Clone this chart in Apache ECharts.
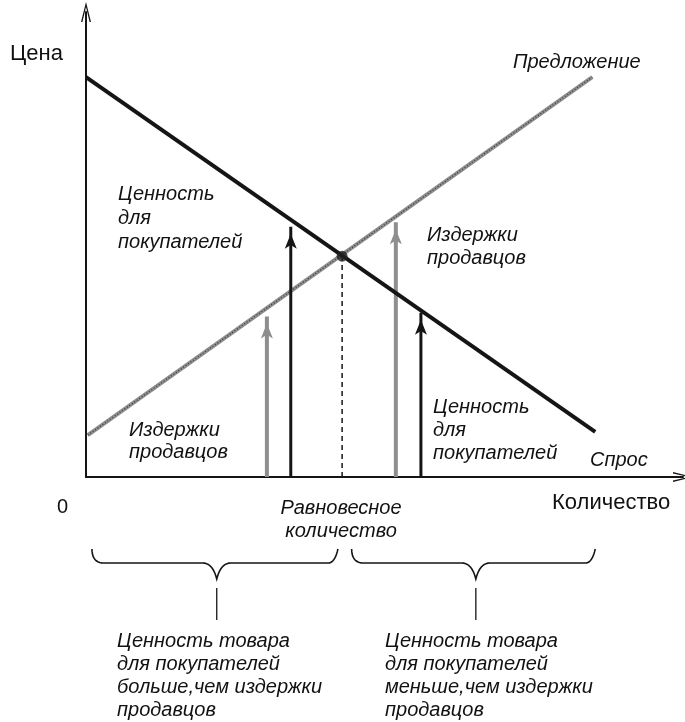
<!DOCTYPE html>
<html>
<head>
<meta charset="utf-8">
<script src="https://cdn.jsdelivr.net/npm/echarts@6/dist/echarts.min.js"></script>
<style>
  html, body { margin: 0; background: #fff; }
  #chart { width: 685px; height: 722px; }
</style>
</head>
<body>
<div id="chart"></div>
<script>
// supply / demand lines (quantity, price)
const supplyQ = [0.03, 8.48];
const supplyP = [0.90, 8.60];
const demandQ = [0, 8.53];
const demandP = [8.60, 0.97];
// equilibrium point
const eqQ = 4.29;
const eqP = 4.75;
// vertical arrows: value for buyers (black) and seller costs (grey)
const buyerQ = [3.43, 5.61];
const buyerP = [5.38, 3.53];
const sellerQ = [3.03, 5.19];
const sellerP = [3.45, 5.48];
// brace ranges under the axis: start, tip, end
const braceLeft = [0.1, 2.19, 4.22];
const braceRight = [4.45, 6.53, 8.53];

const FONT = '"Liberation Sans", Arial, sans-serif';
const BLACK = '#151515';
const GREY = '#8e8e8e';

function pairs(qs, ps) {
    return qs.map((q, i) => [q, ps[i]]);
}

function arrowSeries(q, p, color, width) {
    return {
        type: 'line',
        silent: true,
        data: [
            {value: [q, 0], symbol: 'none'},
            {value: [q, p], symbol: 'arrow', symbolSize: [9, 15], symbolOffset: [0, 7]}
        ],
        lineStyle: {color: color, width: width},
        itemStyle: {color: color},
        z: 3
    };
}

let chart = echarts.init(document.getElementById('chart'));

let series = [
    {
        type: 'line', silent: true, symbol: 'none',
        data: pairs(supplyQ, supplyP),
        lineStyle: {color: GREY, width: 4}
    },
    {
        type: 'line', silent: true, symbol: 'none',
        data: pairs(supplyQ, supplyP),
        lineStyle: {color: '#3a3a3a', width: 1.3, type: [1, 2]}
    },
    {
        type: 'line', silent: true, symbol: 'none',
        data: pairs(demandQ, demandP),
        lineStyle: {color: BLACK, width: 4},
        z: 4
    },
    {
        type: 'line', silent: true, symbol: 'none',
        data: [[eqQ, 0], [eqQ, eqP]],
        lineStyle: {color: BLACK, width: 1.5, type: [5, 4]}
    }
];
buyerQ.forEach((q, i) => series.push(arrowSeries(q, buyerP[i], BLACK, 3)));
sellerQ.forEach((q, i) => series.push(arrowSeries(q, sellerP[i], GREY, 4)));
series.push({
    type: 'scatter', silent: true,
    data: [[eqQ, eqP]],
    symbolSize: 11,
    itemStyle: {color: '#222'},
    z: 6
});

const axisArrow = 'path://M0,20 L5,0 L10,20 L8.6,20 L5,5 L1.4,20 Z';

function axisCfg() {
    return {
        type: 'value', min: 0, max: 10,
        axisLine: {
            show: true, onZero: false,
            symbol: ['none', axisArrow], symbolSize: [11, 20],
            lineStyle: {color: BLACK, width: 2}
        },
        axisTick: {show: false},
        axisLabel: {show: false},
        splitLine: {show: false}
    };
}

function txt(x, y, text, opts) {
    opts = opts || {};
    return {
        type: 'text', x: x, y: y, silent: true, z: 10,
        style: {
            text: text,
            font: (opts.italic === false ? '' : 'italic ') + (opts.size || 20) + 'px ' + FONT,
            fill: '#111',
            lineHeight: opts.lh || 23,
            align: opts.align || 'left',
            verticalAlign: 'top'
        }
    };
}

let option = {
    animation: false,
    backgroundColor: '#fff',
    grid: {left: 86, right: 2, top: 12, bottom: 245},
    xAxis: axisCfg(),
    yAxis: axisCfg(),
    series: series
};
chart.setOption(option);

// texts and braces (braces placed through the x scale)
let px = q => chart.convertToPixel({gridIndex: 0}, [q, 0])[0];

function quad(pts, a, c, b) {
    for (let t = 0.1; t <= 1.0001; t += 0.1) {
        let u = 1 - t;
        pts.push([u * u * a[0] + 2 * u * t * c[0] + t * t * b[0],
                  u * u * a[1] + 2 * u * t * c[1] + t * t * b[1]]);
    }
}

function bracePoints(r) {
    let x0 = px(r[0]), xm = px(r[1]), x1 = px(r[2]);
    let yTop = 549, yFlat = 563, yTip = 579;
    let pts = [[x0, yTop]];
    quad(pts, [x0, yTop], [x0, yFlat], [x0 + 12, yFlat]);
    pts.push([xm - 14, yFlat]);
    quad(pts, [xm - 14, yFlat], [xm - 4, yFlat], [xm, yTip]);
    quad(pts, [xm, yTip], [xm + 4, yFlat], [xm + 14, yFlat]);
    pts.push([x1 - 10, yFlat]);
    quad(pts, [x1 - 10, yFlat], [x1 - 3, yFlat], [x1, yTop]);
    return pts;
}

let graphics = [
    txt(10, 42, 'Цена', {italic: false, size: 22}),
    txt(513, 51, 'Предложение'),
    txt(118, 182, 'Ценность\nдля\nпокупателей', {lh: 24}),
    txt(427, 224, 'Издержки\nпродавцов'),
    txt(129, 419, 'Издержки\nпродавцов', {lh: 22}),
    txt(433, 396, 'Ценность\nдля\nпокупателей'),
    txt(590, 449, 'Спрос'),
    txt(57, 496, '0', {italic: false, size: 20}),
    txt(552, 491, 'Количество', {italic: false, size: 22}),
    txt(341, 497, 'Равновесное\nколичество', {align: 'center'}),
    txt(117, 630, 'Ценность товара\nдля покупателей\nбольше,чем издержки\nпродавцов'),
    txt(385, 630, 'Ценность товара\nдля покупателей\nменьше,чем издержки\nпродавцов')
];
[braceLeft, braceRight].forEach(r => {
    graphics.push({
        type: 'polyline', silent: true,
        shape: {points: bracePoints(r)},
        style: {fill: null, stroke: BLACK, lineWidth: 1.6}
    });
    graphics.push({
        type: 'line', silent: true,
        shape: {x1: px(r[1]), y1: 588, x2: px(r[1]), y2: 620},
        style: {stroke: BLACK, lineWidth: 1.3}
    });
});
chart.setOption({graphic: graphics});
</script>
</body>
</html>
